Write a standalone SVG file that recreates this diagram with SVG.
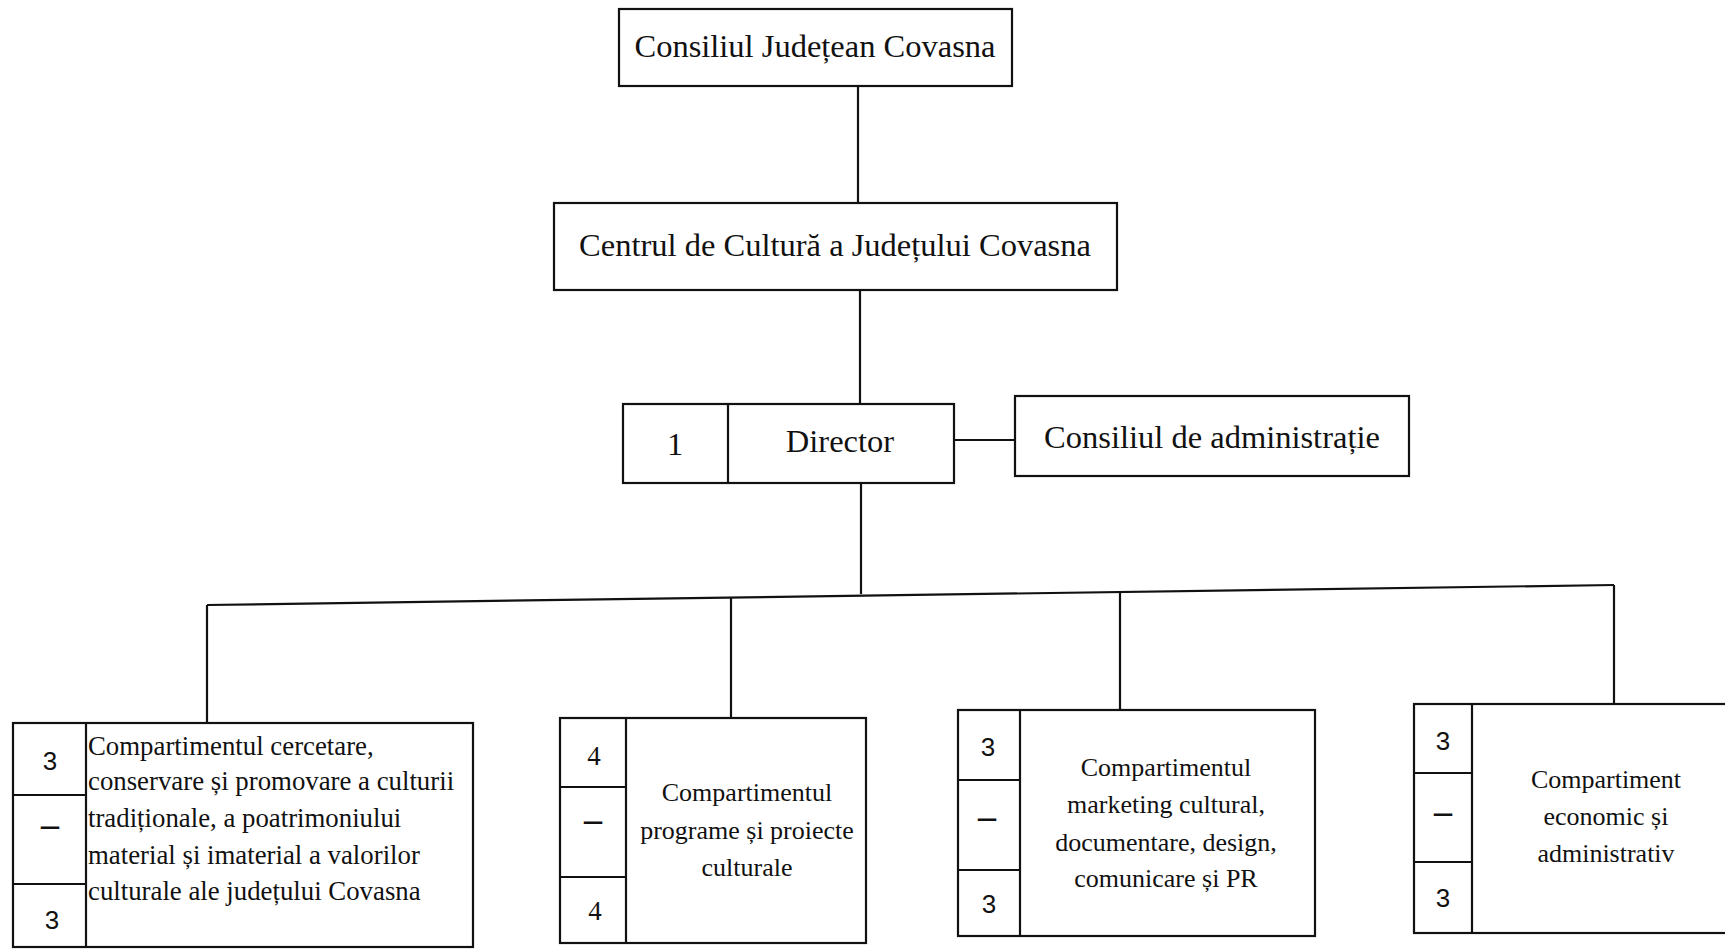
<svg xmlns="http://www.w3.org/2000/svg" width="1725" height="949" viewBox="0 0 1725 949">
<style>
.bx{fill:none;stroke:#111;stroke-width:2.2}
.ln{fill:none;stroke:#111;stroke-width:2.2}
.t1{font-family:"Liberation Serif","DejaVu Serif",serif;font-size:32.5px;fill:#111;text-anchor:middle}
.t2{font-family:"Liberation Serif","DejaVu Serif",serif;font-size:26px;fill:#111;text-anchor:middle}
.tl{font-family:"Liberation Serif","DejaVu Serif",serif;font-size:26.8px;fill:#111;text-anchor:start}
.num{font-family:"Liberation Sans","DejaVu Sans",sans-serif;font-size:26px;fill:#111;text-anchor:middle}
.nums{font-family:"Liberation Serif","DejaVu Serif",serif;font-size:27px;fill:#111;text-anchor:middle}
.dash{font-family:"Liberation Serif","DejaVu Serif",serif;font-size:36px;font-weight:bold;fill:#111;text-anchor:middle}
</style>
<rect width="1725" height="949" fill="#fff"/>
<g id="connectors">
<line class="ln" x1="858" y1="86" x2="858" y2="203"/>
<line class="ln" x1="860" y1="290" x2="860" y2="404"/>
<line class="ln" x1="954" y1="440" x2="1015" y2="440"/>
<line class="ln" x1="861" y1="483" x2="861" y2="594"/>
<polyline class="ln" points="207,605 1614,585"/>
<line class="ln" x1="207" y1="605" x2="207" y2="723"/>
<line class="ln" x1="731" y1="598" x2="731" y2="718"/>
<line class="ln" x1="1120" y1="592" x2="1120" y2="710"/>
<line class="ln" x1="1614" y1="585" x2="1614" y2="704"/>
</g>
<g id="n-consiliul-judetean">
<rect class="bx" x="619" y="9" width="393" height="77"/>
<text class="t1" x="815" y="57">Consiliul Județean Covasna</text>
</g>
<g id="n-centrul">
<rect class="bx" x="554" y="203" width="563" height="87"/>
<text class="t1" x="835" y="256">Centrul de Cultură a Județului Covasna</text>
</g>
<g id="n-director">
<rect class="bx" x="623" y="404" width="331" height="79"/>
<line class="bx" x1="728" y1="404" x2="728" y2="483"/>
<text class="t1" x="675" y="455">1</text>
<text class="t1" x="840" y="452">Director</text>
</g>
<g id="n-consiliul-admin">
<rect class="bx" x="1015" y="396" width="394" height="80"/>
<text class="t1" x="1212" y="448">Consiliul de administrație</text>
</g>
<g id="n-cercetare">
<rect class="bx" x="13" y="723" width="460" height="224"/>
<line class="bx" x1="86" y1="723" x2="86" y2="947"/>
<line class="bx" x1="13" y1="795" x2="86" y2="795"/>
<line class="bx" x1="13" y1="884" x2="86" y2="884"/>
<text class="num" x="50" y="770">3</text>
<text class="dash" x="50" y="836">–</text>
<text class="num" x="52" y="929">3</text>
<text class="tl" x="88" y="755">Compartimentul cercetare,</text>
<text class="tl" x="88" y="790">conservare și promovare a culturii</text>
<text class="tl" x="88" y="827">tradiționale, a poatrimoniului</text>
<text class="tl" x="88" y="864">material și imaterial a valorilor</text>
<text class="tl" x="88" y="900">culturale ale județului Covasna</text>
</g>
<g id="n-programe">
<rect class="bx" x="560" y="718" width="306" height="225"/>
<line class="bx" x1="626" y1="718" x2="626" y2="943"/>
<line class="bx" x1="560" y1="787" x2="626" y2="787"/>
<line class="bx" x1="560" y1="877" x2="626" y2="877"/>
<text class="nums" x="594" y="765">4</text>
<text class="dash" x="593" y="831">–</text>
<text class="nums" x="595" y="920">4</text>
<text class="t2" x="747" y="801">Compartimentul</text>
<text class="t2" x="747" y="839">programe și proiecte</text>
<text class="t2" x="747" y="876">culturale</text>
</g>
<g id="n-marketing">
<rect class="bx" x="958" y="710" width="357" height="226"/>
<line class="bx" x1="1020" y1="710" x2="1020" y2="936"/>
<line class="bx" x1="958" y1="780" x2="1020" y2="780"/>
<line class="bx" x1="958" y1="870" x2="1020" y2="870"/>
<text class="num" x="988" y="756">3</text>
<text class="dash" x="987" y="828">–</text>
<text class="num" x="989" y="913">3</text>
<text class="t2" x="1166" y="776">Compartimentul</text>
<text class="t2" x="1166" y="813">marketing cultural,</text>
<text class="t2" x="1166" y="851">documentare, design,</text>
<text class="t2" x="1166" y="887">comunicare și PR</text>
</g>
<g id="n-economic">
<rect class="bx" x="1414" y="704" width="330" height="229"/>
<line class="bx" x1="1472" y1="704" x2="1472" y2="933"/>
<line class="bx" x1="1414" y1="773" x2="1472" y2="773"/>
<line class="bx" x1="1414" y1="862" x2="1472" y2="862"/>
<text class="num" x="1443" y="750">3</text>
<text class="dash" x="1443" y="823">–</text>
<text class="num" x="1443" y="907">3</text>
<text class="t2" x="1606" y="788">Compartiment</text>
<text class="t2" x="1606" y="825">economic și</text>
<text class="t2" x="1606" y="862">administrativ</text>
</g>
</svg>
